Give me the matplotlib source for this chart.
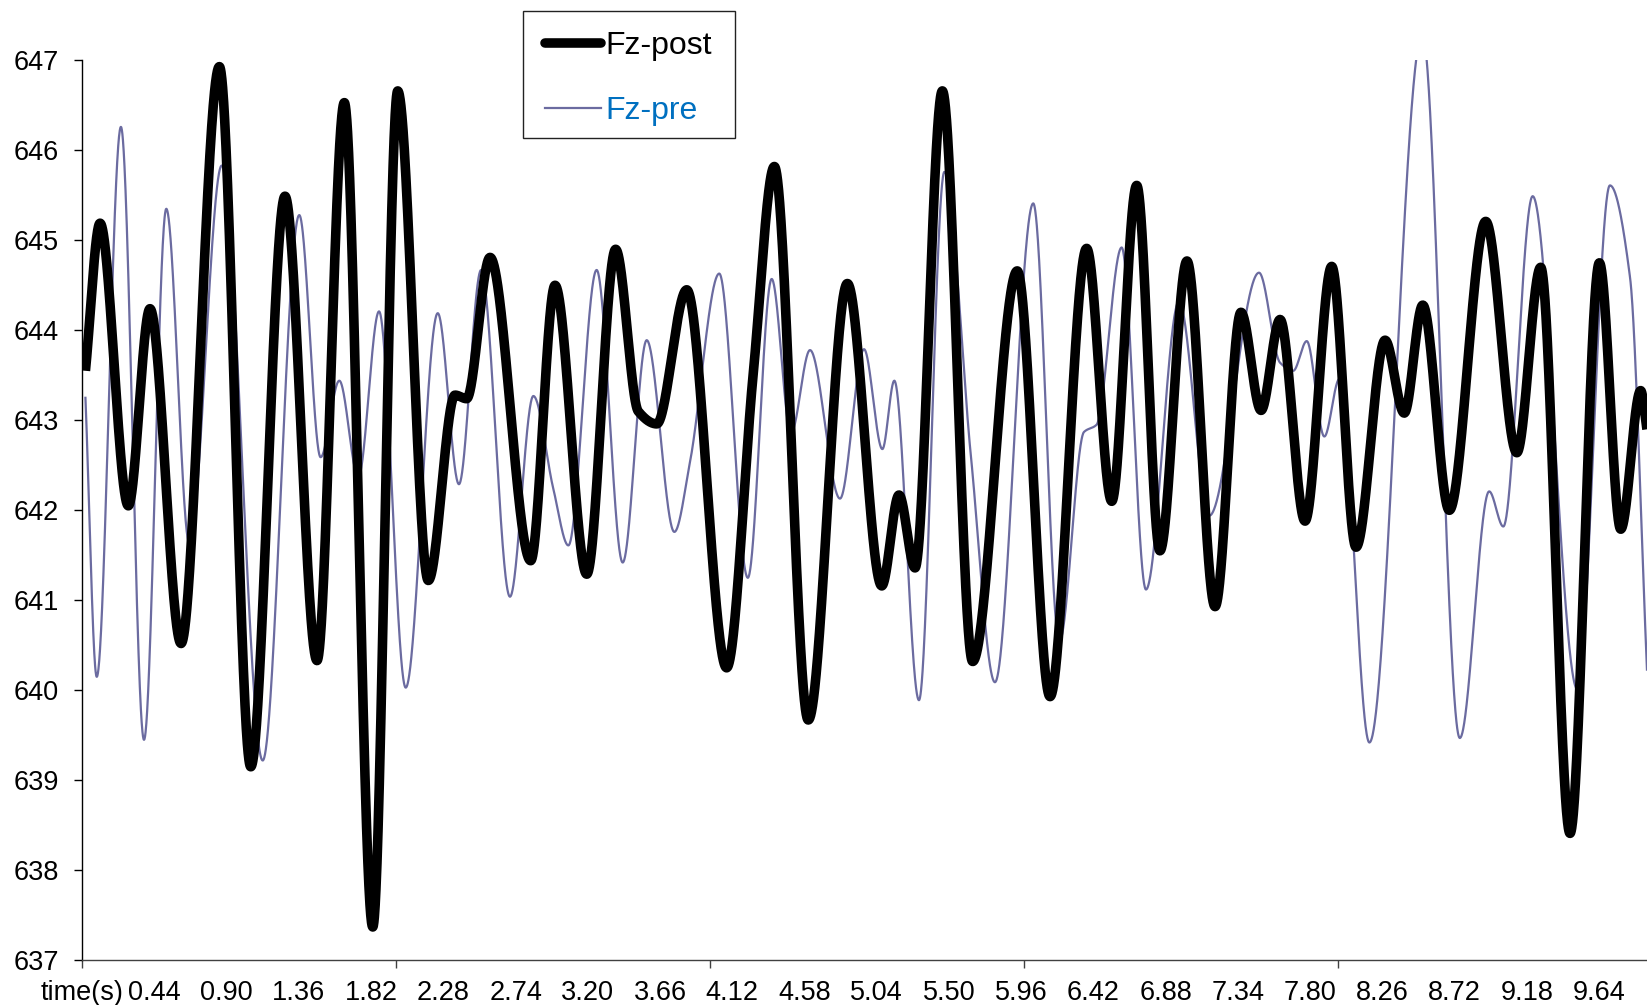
import numpy as np
import matplotlib
matplotlib.use("Agg")
import matplotlib.pyplot as plt
from matplotlib.lines import Line2D
from matplotlib.patches import Rectangle

plt.rcParams['font.family'] = ['Liberation Sans', 'DejaVu Sans']

# ---- data (turning points of each trace) ----
post_t = [0.00, 0.093, 0.273, 0.411, 0.609, 0.853, 1.053, 1.271, 1.475, 1.649,
          1.830, 1.989, 2.184, 2.354, 2.428, 2.577, 2.836, 2.991, 3.193, 3.377,
          3.521, 3.639, 3.830, 4.084, 4.254, 4.388, 4.604, 4.853, 5.072, 5.182,
          5.284, 5.458, 5.651, 5.935, 6.144, 6.377, 6.537, 6.696, 6.844, 7.016,
          7.195, 7.360, 7.488, 7.609, 7.768, 7.938, 8.093, 8.278, 8.400, 8.518,
          8.687, 8.919, 9.117, 9.269, 9.456, 9.643, 9.779, 9.906, 9.946]
post_v = [643.55, 645.19, 642.05, 644.24, 640.52, 646.93, 639.15, 645.49, 640.33, 646.53,
          637.37, 646.66, 641.22, 643.28, 643.24, 644.81, 641.44, 644.50, 641.29, 644.90,
          643.10, 642.96, 644.45, 640.25, 643.53, 645.82, 639.67, 644.52, 641.16, 642.17,
          641.36, 646.66, 640.32, 644.66, 639.93, 644.91, 642.10, 645.61, 641.55, 644.77,
          640.93, 644.20, 643.11, 644.12, 641.88, 644.71, 641.59, 643.89, 643.08, 644.28,
          642.00, 645.21, 642.64, 644.70, 638.41, 644.75, 641.79, 643.33, 642.90]

pre_t = [0.00, 0.072, 0.226, 0.373, 0.515, 0.662, 0.868, 1.129, 1.362, 1.498,
         1.617, 1.738, 1.870, 2.040, 2.244, 2.379, 2.520, 2.704, 2.853, 2.980,
         3.076, 3.256, 3.422, 3.575, 3.751, 3.851, 4.037, 4.219, 4.371, 4.494,
         4.615, 4.806, 4.959, 5.076, 5.152, 5.309, 5.471, 5.640, 5.793, 6.037,
         6.203, 6.360, 6.440, 6.600, 6.755, 6.965, 7.158, 7.475, 7.609, 7.693,
         7.779, 7.891, 7.987, 8.178, 8.515, 8.754, 8.941, 9.031, 9.218, 9.503,
         9.710, 9.838, 9.946]
pre_v = [643.25, 640.15, 646.26, 639.45, 645.35, 641.63, 645.83, 639.22, 645.28, 642.59,
         643.44, 642.37, 644.21, 640.03, 644.19, 642.29, 644.67, 641.04, 643.27, 642.24,
         641.61, 644.67, 641.42, 643.89, 641.76, 642.54, 644.63, 641.25, 644.57, 642.86,
         643.78, 642.13, 643.79, 642.68, 643.44, 639.89, 645.76, 642.60, 640.09, 645.41,
         640.54, 642.87, 642.95, 644.92, 641.12, 644.32, 641.94, 644.64, 643.64, 643.55,
         643.88, 642.82, 643.46, 639.42, 647.30, 639.47, 642.21, 641.82, 645.49, 640.01,
         645.61, 644.59, 640.23]

xtick_labels = ["time(s)", "0.44", "0.90", "1.36", "1.82", "2.28", "2.74", "3.20",
                "3.66", "4.12", "4.58", "5.04", "5.50", "5.96", "6.42", "6.88",
                "7.34", "7.80", "8.26", "8.72", "9.18", "9.64"]
xtick_pos = [-0.02] + [float(s) for s in xtick_labels[1:]]
major_ticks = [-0.02, 1.98, 3.98, 5.98, 7.98]
yticks = list(range(637, 648))


def smooth_line(x, y, n=6000):
    """Monotone cubic (Fritsch-Carlson) curve through the turning points."""
    x = np.asarray(x, float)
    y = np.asarray(y, float)
    h = np.diff(x)
    d = np.diff(y) / h
    m = np.zeros_like(y)
    m[0], m[-1] = d[0], d[-1]
    for k in range(1, len(y) - 1):
        if d[k - 1] * d[k] > 0:
            w1 = 2 * h[k] + h[k - 1]
            w2 = h[k] + 2 * h[k - 1]
            m[k] = (w1 + w2) / (w1 / d[k - 1] + w2 / d[k])
    xs = np.linspace(x[0], x[-1], n)
    idx = np.clip(np.searchsorted(x, xs) - 1, 0, len(x) - 2)
    hh = h[idx]
    s = (xs - x[idx]) / hh
    h00 = 2 * s**3 - 3 * s**2 + 1
    h10 = s**3 - 2 * s**2 + s
    h01 = -2 * s**3 + 3 * s**2
    h11 = s**3 - s**2
    ys = h00 * y[idx] + h10 * hh * m[idx] + h01 * y[idx + 1] + h11 * hh * m[idx + 1]
    return xs, ys


W, H = 1647, 1005
fig = plt.figure(figsize=(W / 100, H / 100), dpi=100)
ax_left = 82.3 / W
ax = fig.add_axes([ax_left, 44.7 / H, 1 - ax_left, 900 / H])

pre_x, pre_y = smooth_line(pre_t, pre_v)
post_x, post_y = smooth_line(post_t, post_v)
ax.plot(pre_x, pre_y, color='#6B6BA0', lw=1.6, zorder=2)
ax.plot(post_x, post_y, color='black', lw=6.9, solid_capstyle='butt',
        solid_joinstyle='round', zorder=3)

ax.set_xlim(-0.02, -0.02 + (W - 82.3) / 157.0)
ax.set_ylim(637, 647)

for s in ['top', 'right']:
    ax.spines[s].set_visible(False)
ax.spines['left'].set_color('black')
ax.spines['bottom'].set_color('#404040')
ax.spines['left'].set_linewidth(1.0)
ax.spines['bottom'].set_linewidth(1.0)

ax.set_yticks(yticks)
ax.set_yticklabels([str(v) for v in yticks])
ax.tick_params(axis='y', direction='out', length=6, width=1, pad=11, labelsize=19.5)

ax.xaxis.remove_overlapping_locs = False
ax.set_xticks(major_ticks)
ax.set_xticklabels([''] * len(major_ticks))
ax.set_xticks(xtick_pos, minor=True)
ax.set_xticklabels(xtick_labels, minor=True)
ax.tick_params(axis='x', which='major', direction='out', length=6, width=1, color='#404040')
ax.tick_params(axis='x', which='minor', length=0, pad=14, labelsize=19.5)

# legend
handles = [Line2D([], [], color='black', lw=6.9, solid_capstyle='round'),
           Line2D([], [], color='#6B6BA0', lw=1.6)]
leg = ax.legend(handles, ['Fz-post', 'Fz-pre'], loc='upper left',
                bbox_to_anchor=(545 / W, 1 - 31 / H), bbox_transform=fig.transFigure,
                frameon=False, borderpad=0, handlelength=1.75, handletextpad=0.15,
                labelspacing=1.1, fontsize=23, borderaxespad=0)
leg.get_texts()[1].set_color('#0070C0')
fig.add_artist(Rectangle((522.7 / W, 1 - 138 / H), (735 - 522.7) / W, 127 / H,
                         transform=fig.transFigure, fill=False, edgecolor='#222222',
                         lw=1.0, zorder=5))

fig.savefig('out.png', dpi=100)
